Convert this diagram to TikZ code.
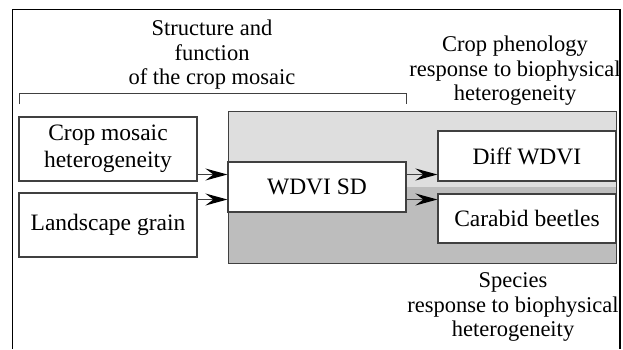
\documentclass[tikz,border=0pt]{standalone}
\usepackage{fontspec}
\setmainfont{Liberation Serif}
\usetikzlibrary{arrows.meta}
\definecolor{lightband}{HTML}{DEDEDE}
\definecolor{darkband}{HTML}{BDBDBD}
\definecolor{edgegray}{HTML}{404040}
\tikzset{
  factor/.style={draw=edgegray,line width=1.2pt,fill=white,minimum width=178pt,align=center,inner sep=0pt,font=\fontsize{23.5}{27}\selectfont},
  arr/.style={line width=1.2pt,draw=edgegray,-{Stealth[length=22pt,width=12pt,inset=8pt,black]}},
  caption/.style={align=center,inner sep=0pt}
}
\begin{document}
\begin{tikzpicture}[x=1pt,y=-1pt,font=\fontsize{22.5}{24.5}\selectfont]
\useasboundingbox (0,0) rectangle (623,349);
\draw[line width=1.3pt] (12.5,349)--(12.5,9.5)--(620,9.5)--(620,349);
\fill[lightband] (228,111) rectangle (616,187);\fill[darkband] (228,187) rectangle (616,263);
\draw[edgegray,line width=1pt] (228,111) rectangle (616,263);
\draw[edgegray,line width=1pt] (19,104)|-(406,93)--(406,104);
\node[caption] (struct) at (212,55) {Structure and\\function\\of the crop mosaic};
\node[caption] (pheno) at (515,71) {Crop phenology\\response to biophysical\\heterogeneity};
\node[caption] (species) at (513,307) {Species\\response to biophysical\\heterogeneity};
\node[factor,minimum height=64pt] (mosaic) at (108,149) {Crop mosaic\\heterogeneity};
\node[factor,minimum height=64pt] (grain) at (108,225) {Landscape grain};
\node[factor,minimum height=50pt] (wdvisd) at (317,187) {WDVI SD};
\node[factor,minimum height=50pt] (diff) at (527,156) {Diff WDVI};
\node[factor,minimum height=49pt] (carabid) at (527,218.5) {Carabid beetles};
\coordinate (in1) at ([yshift=12.5pt]wdvisd.west);\coordinate (in2) at ([yshift=-12.5pt]wdvisd.west);
\coordinate (out1) at ([yshift=12.5pt]wdvisd.east);\coordinate (out2) at ([yshift=-12.5pt]wdvisd.east);
\draw[arr] (mosaic.east|-in1)--(in1);\draw[arr] (grain.east|-in2)--(in2);
\draw[arr] (out1)--(diff.west|-out1);\draw[arr] (out2)--(carabid.west|-out2);
\end{tikzpicture}
\end{document}
